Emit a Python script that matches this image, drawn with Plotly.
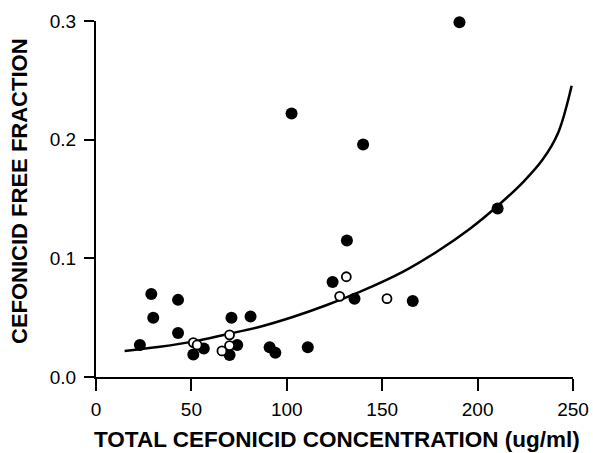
import plotly.graph_objects as go

# Filled circles (solid markers)
filled_x = [23, 29, 30, 43, 43, 51, 56.5, 70, 71, 74, 81, 91, 94, 102.5, 111, 124, 131.5, 135.5, 140, 166, 190.5, 210.5]
filled_y = [0.027, 0.070, 0.050, 0.065, 0.037, 0.019, 0.024, 0.0185, 0.050, 0.027, 0.051, 0.025, 0.0205, 0.222, 0.025, 0.080, 0.115, 0.066, 0.196, 0.064, 0.299, 0.142]

# Open circles
open_x = [51, 53, 66, 70, 70, 127.7, 131.2, 152.5]
open_y = [0.029, 0.027, 0.022, 0.0355, 0.0265, 0.068, 0.0845, 0.066]

# Fitted curve
curve_x = [15, 33.5, 51, 68.5, 86, 103.5, 121, 138.5, 161, 178.6, 196, 210, 224, 234, 242, 249.3]
curve_y = [0.022, 0.0255, 0.0298, 0.036, 0.0424, 0.0508, 0.0607, 0.0719, 0.0888, 0.1056, 0.1250, 0.1435, 0.1645, 0.1830, 0.2050, 0.2455]

x_ticks = [0, 50, 100, 150, 200, 250]
y_ticks = [0.0, 0.1, 0.2, 0.3]

x_title = "TOTAL CEFONICID CONCENTRATION (ug/ml)"
y_title = "CEFONICID FREE FRACTION"

W, H = 593, 453
L, R, T, B = 96, 20, 21, 76

fig = go.Figure()
fig.add_trace(go.Scatter(x=curve_x, y=curve_y, mode="lines",
                         line=dict(color="black", width=2.5, shape="spline", smoothing=1),
                         hoverinfo="skip", showlegend=False, cliponaxis=False))
fig.add_trace(go.Scatter(x=filled_x, y=filled_y, mode="markers",
                         marker=dict(color="black", size=12, line=dict(width=0)),
                         showlegend=False, cliponaxis=False))
fig.add_trace(go.Scatter(x=open_x, y=open_y, mode="markers",
                         marker=dict(color="white", size=9, line=dict(color="black", width=1.8)),
                         showlegend=False, cliponaxis=False))

tickfont = dict(family="Liberation Sans, Arial, sans-serif", size=19, color="black")
fig.update_xaxes(range=[0, 250], tickvals=x_ticks, showline=True, linecolor="black", linewidth=2,
                 ticks="outside", ticklen=12, tickwidth=2, tickcolor="black",
                 showgrid=False, zeroline=False, tickfont=tickfont, ticklabelstandoff=2)
fig.update_yaxes(range=[0, 0.3], tickvals=y_ticks, tickformat=".1f", showline=True, linecolor="black",
                 linewidth=2, ticks="outside", ticklen=10, tickwidth=2, tickcolor="black",
                 showgrid=False, zeroline=False, tickfont=tickfont, ticklabelstandoff=4)

pw, ph = W - L - R, H - T - B
def px_to_paper_x(px):
    return (px - L) / pw
def px_to_paper_y(py):
    return (H - B - py) / ph

fig.add_annotation(text="<b>" + x_title + "</b>", xref="paper", yref="paper",
                   x=px_to_paper_x(337), y=px_to_paper_y(439), xanchor="center", yanchor="middle",
                   showarrow=False,
                   font=dict(family="Liberation Sans, Arial, sans-serif", size=22.5, color="black"))
fig.add_annotation(text="<b>" + y_title + "</b>", xref="paper", yref="paper",
                   x=px_to_paper_x(20), y=px_to_paper_y(191), xanchor="center", yanchor="middle",
                   textangle=-90, showarrow=False,
                   font=dict(family="Liberation Sans, Arial, sans-serif", size=22, color="black"))

fig.update_layout(width=W, height=H, margin=dict(l=L, r=R, t=T, b=B, autoexpand=False),
                  paper_bgcolor="white", plot_bgcolor="white")

fig.write_html("out.html")
